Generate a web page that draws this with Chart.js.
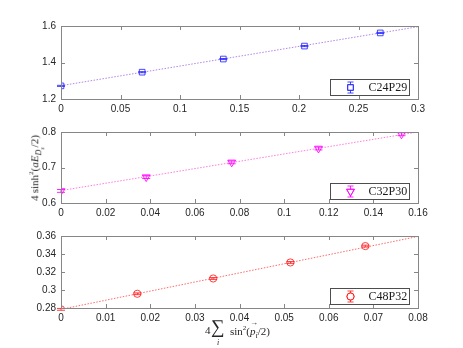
<!DOCTYPE html>
<html><head><meta charset="utf-8">
<script src="https://cdn.jsdelivr.net/npm/chart.js@4/dist/chart.umd.min.js"></script>
<style>
html,body{margin:0;padding:0;background:#fff;}
#wrap{position:relative;width:463px;height:348px;overflow:hidden;background:#fff;}
canvas{position:absolute;left:0;}
.lbl{position:absolute;font-family:"Liberation Serif","DejaVu Serif",serif;color:#262626;white-space:nowrap;}
.vec{position:relative;display:inline-block;}
.vec .arr{position:absolute;left:0px;top:-7px;font-size:8px;font-style:normal;}
</style></head>
<body><div id="wrap">
<canvas id="c1" width="463" height="120" style="top:0px;width:463px;height:120px"></canvas>
<canvas id="c2" width="463" height="105" style="top:120px;width:463px;height:105px"></canvas>
<canvas id="c3" width="463" height="105" style="top:225px;width:463px;height:105px"></canvas>
<div class="lbl" id="ylab" style="font-size:11px;left:36px;top:168px;transform:translate(-50%,-50%) rotate(-90deg);">4&#8201;sinh<sup style="font-size:7px">2</sup>(<i>aE</i><sub style="font-size:8px"><i>D<sub style="font-size:6px">s</sub></i></sub>/2)</div>
<div class="lbl" style="font-size:11px;left:205px;top:324px;">4</div>
<div class="lbl" style="font-size:19px;left:211px;top:316px;">&#8721;</div>
<div class="lbl" style="font-size:8px;left:217px;top:338px;"><i>i</i></div>
<div class="lbl" style="font-size:11px;left:230px;top:324px;">sin<sup style="font-size:7px">2</sup>(<span class="vec"><i>p</i><span class="arr">&#8594;</span></span><sub style="font-size:8px"><i>i</i></sub>/2)</div>
</div>
<script>
// ---- data ----
const names = ['C24P29','C32P30','C48P32'];
const x1 = [0, 0.0682, 0.1364, 0.2046, 0.2683];
const y1 = [1.272, 1.347, 1.419, 1.490, 1.562];
const e1 = [0.003, 0.003, 0.003, 0.003, 0.003];
const fitX1 = [0, 0.3];
const fitY1 = [1.273, 1.596];
const x2 = [0, 0.0382, 0.0765, 0.1154, 0.1526];
const y2 = [0.634, 0.673, 0.7145, 0.7536, 0.7936];
const e2 = [0.004, 0.004, 0.004, 0.004, 0.004];
const fitX2 = [0, 0.16];
const fitY2 = [0.635, 0.800];
const x3 = [0, 0.0171, 0.0341, 0.0514, 0.0682];
const y3 = [0.2785, 0.2958, 0.3128, 0.3306, 0.3488];
const e3 = [0.001, 0.001, 0.001, 0.001, 0.001];
const fitX3 = [0, 0.08];
const fitY3 = [0.2785, 0.3595];
const xTicks1 = [0, 0.05, 0.1, 0.15, 0.2, 0.25, 0.3];
const yTicks1 = [1.2, 1.4, 1.6];
const xTicks2 = [0, 0.02, 0.04, 0.06, 0.08, 0.1, 0.12, 0.14, 0.16];
const yTicks2 = [0.6, 0.7, 0.8];
const xTicks3 = [0, 0.01, 0.02, 0.03, 0.04, 0.05, 0.06, 0.07, 0.08];
const yTicks3 = [0.28, 0.3, 0.32, 0.34, 0.36];

const zip = (a,b)=>a.map((v,i)=>({x:v,y:b[i]}));
const fmt = v => String(+(+v).toFixed(4));

const framePlugin = {
  id:'frame',
  afterDraw(chart){
    const {ctx, chartArea:a, scales:{x,y}} = chart;
    ctx.save();
    ctx.strokeStyle='#868686'; ctx.lineWidth=1;
    const ln=(x0,y0,x1_,y1_)=>{ctx.beginPath();ctx.moveTo(x0,y0);ctx.lineTo(x1_,y1_);ctx.stroke();};
    const L=4;
    x.ticks.forEach((t,i)=>{const p=Math.round(x.getPixelForTick(i))+0.5; ln(p,a.bottom,p,a.bottom-L); ln(p,a.top,p,a.top+L);});
    y.ticks.forEach((t,i)=>{const p=Math.round(y.getPixelForTick(i))+0.5; ln(a.left,p,a.left+L,p); ln(a.right,p,a.right-L,p);});
    ctx.strokeRect(Math.round(a.left)+0.5, Math.round(a.top)+0.5, Math.round(a.right-a.left), Math.round(a.bottom-a.top));
    ctx.restore();
  }
};

const errPlugin = {
  id:'errbars',
  afterDatasetsDraw(chart){
    const {ctx, scales:{x,y}} = chart;
    chart.data.datasets.forEach(ds=>{
      if(!ds.err) return;
      ctx.save(); ctx.strokeStyle=ds.borderColor; ctx.lineWidth=1;
      ds.data.forEach((p,i)=>{
        const px=x.getPixelForValue(p.x), lo=y.getPixelForValue(p.y-ds.err[i]), hi=y.getPixelForValue(p.y+ds.err[i]);
        const c=ds.capW;
        ctx.beginPath(); ctx.moveTo(px,lo); ctx.lineTo(px,hi);
        ctx.moveTo(px-c,lo); ctx.lineTo(px+c,lo);
        ctx.moveTo(px-c,hi); ctx.lineTo(px+c,hi); ctx.stroke();
      });
      ctx.restore();
    });
  }
};

const legendPlugin = {
  id:'boxlegend',
  afterDraw(chart){
    const {ctx, chartArea:a} = chart;
    const ds = chart.data.datasets.find(d=>d.err);
    const w=79, h=16;
    const bx=Math.round(a.right-9-w)+0.5, by=Math.round(a.bottom-4-h)+0.5;
    ctx.save();
    ctx.fillStyle='#fff'; ctx.fillRect(bx,by,w,h);
    ctx.strokeStyle='#4d4d4d'; ctx.lineWidth=1; ctx.strokeRect(bx,by,w,h);
    const mx=bx+20, my=by+h/2;
    ctx.strokeStyle=ds.borderColor;
    ctx.beginPath(); ctx.moveTo(mx,my-5.5); ctx.lineTo(mx,my+5.5);
    ctx.moveTo(mx-3,my-5.5); ctx.lineTo(mx+3,my-5.5);
    ctx.moveTo(mx-3,my+5.5); ctx.lineTo(mx+3,my+5.5); ctx.stroke();
    Chart.helpers.drawPoint(ctx,{pointStyle:ds.pointStyle,rotation:ds.pointRotation||0,radius:ds.pointRadius,borderWidth:1},mx,my);
    ctx.stroke();
    ctx.fillStyle='#1a1a1a'; ctx.font='12px "Liberation Serif"'; ctx.textBaseline='middle'; ctx.textAlign='left';
    ctx.fillText(ds.label, bx+38, my+0.5);
    ctx.restore();
  }
};

function make(id, name, xs, ys, es, fx, fy, xt, yt, color, lineColor, pstyle, prot, prad, capW, padTop, xH){
  const xMin=xt[0], xMax=xt[xt.length-1], yMin=yt[0], yMax=yt[yt.length-1];
  return new Chart(document.getElementById(id), {
    type:'scatter',
    data:{datasets:[
      {label:'fit', data:zip(fx,fy), showLine:true, borderColor:lineColor, borderWidth:1, borderDash:[1.5,1.5], pointRadius:0, fill:false},
      {label:name, data:zip(xs,ys), err:es, capW:capW, borderColor:color, backgroundColor:'rgba(0,0,0,0)', pointStyle:pstyle, pointRotation:prot, pointRadius:prad, pointBorderWidth:1, showLine:false}
    ]},
    options:{
      responsive:false, animation:false, devicePixelRatio:1,
      layout:{padding:{left:0,right:45,top:padTop,bottom:0}},
      plugins:{legend:{display:false}, tooltip:{enabled:false}},
      scales:{
        x:{type:'linear', min:xMin, max:xMax,
          afterBuildTicks:s=>{s.ticks=xt.map(v=>({value:v}));},
          afterFit:s=>{s.height=xH;},
          grid:{display:false, drawTicks:false}, border:{display:false},
          ticks:{padding:4, color:'#262626', font:{family:'"Liberation Sans"', size:10}, callback:fmt, maxRotation:0, autoSkip:false}},
        y:{type:'linear', min:yMin, max:yMax,
          afterBuildTicks:s=>{s.ticks=yt.map(v=>({value:v}));},
          afterFit:s=>{s.width=61;},
          grid:{display:false, drawTicks:false}, border:{display:false},
          ticks:{padding:5, color:'#262626', font:{family:'"Liberation Sans"', size:10}, callback:fmt, autoSkip:false}}
      }
    },
    plugins:[framePlugin, errPlugin, legendPlugin]
  });
}

make('c1', names[0], x1, y1, e1, fitX1, fitY1, xTicks1, yTicks1, 'rgba(40,40,255,0.85)', 'rgba(170,120,230,0.9)', 'rect', 0, 4, 4, 26, 21);
make('c2', names[1], x2, y2, e2, fitX2, fitY2, xTicks2, yTicks2, 'rgba(255,0,255,0.85)', 'rgba(255,110,220,0.9)', 'triangle', 180, 4.5, 4, 12, 22);
make('c3', names[2], x3, y3, e3, fitX3, fitY3, xTicks3, yTicks3, 'rgba(255,30,30,0.85)', 'rgba(255,90,90,0.9)', 'circle', 0, 3.6, 4, 10, 22);
</script>
</body></html>
